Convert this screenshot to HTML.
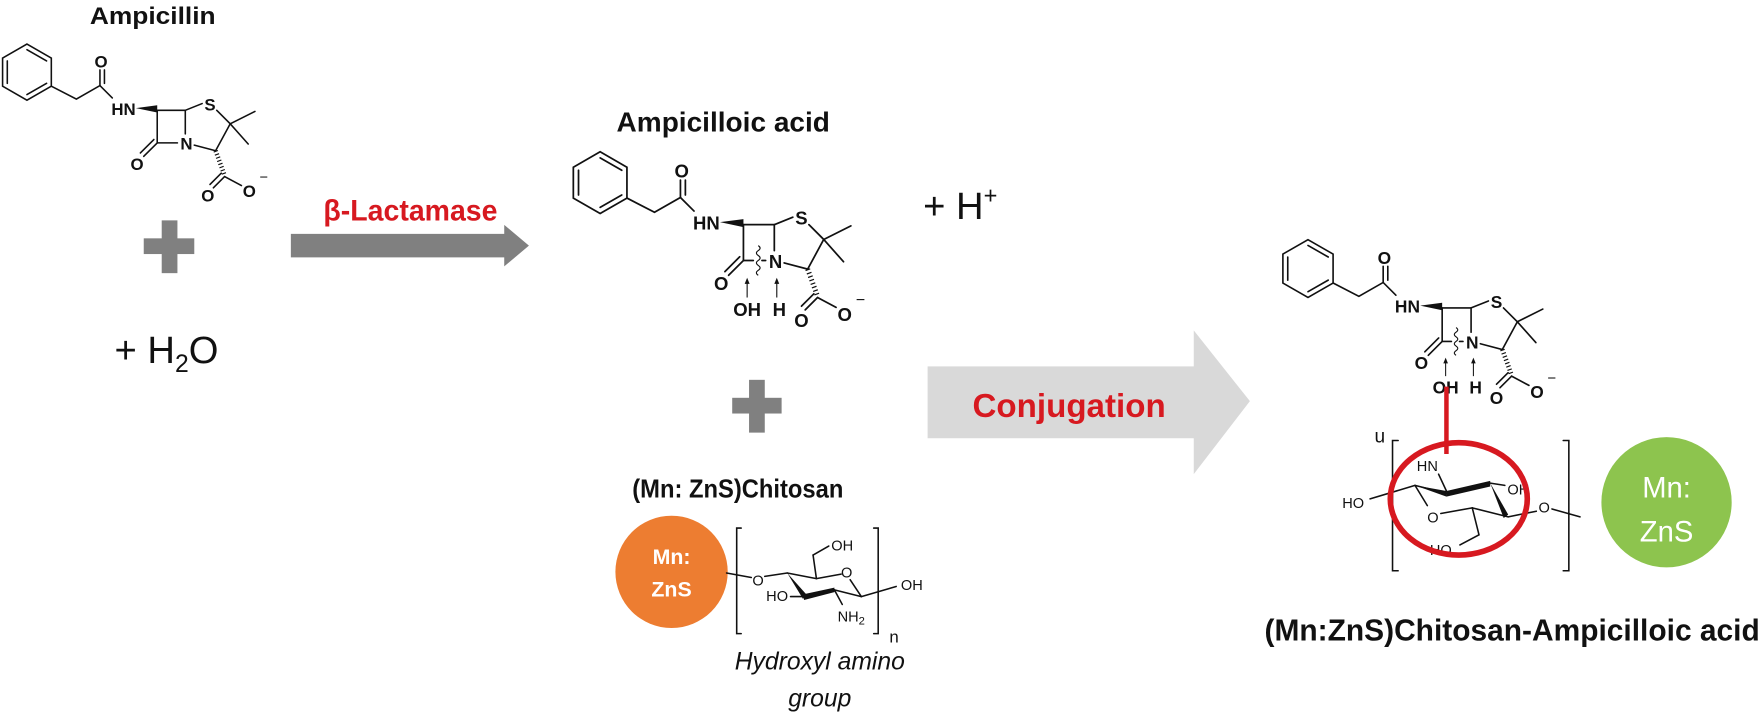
<!DOCTYPE html>
<html><head><meta charset="utf-8"><style>
html,body{margin:0;padding:0;background:#fff;}
svg{display:block;}
text{font-family:"Liberation Sans",Arial,sans-serif;}
.b{stroke:#111;stroke-width:1.4;fill:none;stroke-linecap:round;}
.lb{font-size:15px;fill:#111;text-anchor:middle;font-weight:bold;}
.sl{font-size:13px;fill:#111;text-anchor:middle;}
</style></head><body>
<svg width="1762" height="717" viewBox="0 0 1569 638" xmlns="http://www.w3.org/2000/svg">
<rect width="1569" height="638" fill="#fff"/>

<!-- ===== Ampicillin ===== -->
<text x="80" y="21" font-size="21" font-weight="bold" fill="#111" textLength="112" lengthAdjust="spacingAndGlyphs">Ampicillin</text>
<g transform="translate(0,0)">
  <polygon class="b" points="24,39 45.7,51.5 45.7,76.5 24,89 2.3,76.5 2.3,51.5"/>
  <line class="b" x1="24" y1="44" x2="41.5" y2="54"/><line class="b" x1="41.5" y1="74" x2="24" y2="84"/><line class="b" x1="6.5" y1="74" x2="6.5" y2="54"/>
  <polyline class="b" points="45.7,76.5 68,88 89,76 100,87"/>
  <line class="b" x1="89" y1="76" x2="89" y2="62"/><line class="b" x1="93" y1="74" x2="93" y2="62"/>
  <text class="lb" x="90" y="60">O</text>
  <text class="lb" x="110" y="102">HN</text>
  <polygon points="121,96 140,93.5 140,100" fill="#111"/>
  <polyline class="b" points="140,98 165,98 165,119"/>
  <polyline class="b" points="140,98 140,127 158,127"/>
  <text class="lb" x="166" y="133">N</text>
  <line class="b" x1="140" y1="127" x2="128" y2="139"/><line class="b" x1="137" y1="124" x2="125" y2="136"/>
  <text class="lb" x="122" y="151">O</text>
  <line class="b" x1="165" y1="98" x2="180" y2="92"/>
  <text class="lb" x="187" y="98">S</text>
  <polyline class="b" points="193,98 205,110 192,134 173,129"/>
  <line class="b" x1="205" y1="110" x2="227" y2="99"/><line class="b" x1="205" y1="110" x2="221" y2="128"/>
  <line x1="192" y1="134" x2="200" y2="156" stroke="#111" stroke-width="4" stroke-dasharray="1,2"/>
  <line class="b" x1="200" y1="157" x2="190" y2="167"/><line class="b" x1="197" y1="154" x2="187" y2="164"/>
  <line class="b" x1="200" y1="157" x2="215" y2="165"/>
  <text class="lb" x="185" y="179">O</text>
  <text class="lb" x="222" y="175">O</text>
  <text x="231" y="162" font-size="13" fill="#111">−</text>
</g>

<!-- plus 1 -->
<rect x="128" y="212" width="45" height="14" fill="#808080"/>
<rect x="144" y="196" width="14" height="47" fill="#808080"/>
<text x="102" y="323" font-size="34" fill="#111">+ H<tspan font-size="22" dy="8">2</tspan><tspan dy="-8">O</tspan></text>

<!-- arrow 1 -->
<text x="288" y="196" font-size="26" font-weight="bold" fill="#d71920" textLength="155" lengthAdjust="spacingAndGlyphs">β-Lactamase</text>
<polygon points="259,208 449,208 449,200 471,218.5 449,237 449,229 259,229" fill="#808080"/>

<!-- ===== Ampicilloic acid ===== -->
<text x="549" y="117" font-size="25" font-weight="bold" fill="#111" textLength="190" lengthAdjust="spacingAndGlyphs">Ampicilloic acid</text>
<g transform="translate(508,92) scale(1.1)">
  <polygon class="b" points="24,39 45.7,51.5 45.7,76.5 24,89 2.3,76.5 2.3,51.5"/>
  <line class="b" x1="24" y1="44" x2="41.5" y2="54"/><line class="b" x1="41.5" y1="74" x2="24" y2="84"/><line class="b" x1="6.5" y1="74" x2="6.5" y2="54"/>
  <polyline class="b" points="45.7,76.5 68,88 89,76 100,87"/>
  <line class="b" x1="89" y1="76" x2="89" y2="62"/><line class="b" x1="93" y1="74" x2="93" y2="62"/>
  <text class="lb" x="90" y="60">O</text>
  <text class="lb" x="110" y="102">HN</text>
  <polygon points="121,96 140,93.5 140,100" fill="#111"/>
  <polyline class="b" points="140,98 165,98 165,119"/>
  <polyline class="b" points="140,98 140,127 148,127"/>
  <line class="b" x1="155" y1="127" x2="158" y2="127"/>
  <path d="M152,115 q3,2 0,4 q-3,2 0,4 q3,2 0,4 q-3,2 0,4 q3,2 0,4 q-3,2 0,4" stroke="#111" stroke-width="0.9" fill="none"/>
  <text class="lb" x="166" y="133">N</text>
  <line class="b" x1="140" y1="127" x2="128" y2="139"/><line class="b" x1="137" y1="124" x2="125" y2="136"/>
  <text class="lb" x="122" y="151">O</text>
  <line class="b" x1="165" y1="98" x2="180" y2="92"/>
  <text class="lb" x="187" y="98">S</text>
  <polyline class="b" points="193,98 205,110 192,134 173,129"/>
  <line class="b" x1="205" y1="110" x2="227" y2="99"/><line class="b" x1="205" y1="110" x2="221" y2="128"/>
  <line x1="192" y1="134" x2="200" y2="156" stroke="#111" stroke-width="4" stroke-dasharray="1,2"/>
  <line class="b" x1="200" y1="157" x2="190" y2="167"/><line class="b" x1="197" y1="154" x2="187" y2="164"/>
  <line class="b" x1="200" y1="157" x2="215" y2="165"/>
  <text class="lb" x="187" y="181">O</text>
  <text class="lb" x="222" y="176">O</text>
  <text x="231" y="163" font-size="13" fill="#111">−</text>
  <line x1="143" y1="157" x2="143" y2="145" stroke="#111" stroke-width="0.9"/><polygon points="143,141 141,146 145,146" fill="#111"/>
  <line x1="167" y1="157" x2="167" y2="145" stroke="#111" stroke-width="0.9"/><polygon points="167,141 165,146 169,146" fill="#111"/>
  <text class="lb" x="143" y="172">OH</text>
  <text class="lb" x="169" y="172">H</text>
</g>
<text x="822" y="195" font-size="34" fill="#111">+ H<tspan font-size="21" dy="-14">+</tspan></text>

<!-- plus 2 -->
<rect x="652" y="354" width="44" height="14" fill="#808080"/>
<rect x="667" y="338" width="14" height="47" fill="#808080"/>

<!-- conjugation arrow -->
<polygon points="826,326 1063,326 1063,294 1113,357 1063,422 1063,390 826,390" fill="#d9d9d9"/>
<text x="866" y="371" font-size="30" font-weight="bold" fill="#d71920" textLength="172" lengthAdjust="spacingAndGlyphs">Conjugation</text>

<!-- ===== (Mn:ZnS)Chitosan ===== -->
<text x="563" y="443" font-size="23" font-weight="bold" fill="#111" textLength="188" lengthAdjust="spacingAndGlyphs">(Mn: ZnS)Chitosan</text>
<circle cx="598" cy="509" r="50" fill="#ed7d31"/>
<text x="598" y="502" font-size="19" font-weight="bold" fill="#fff" text-anchor="middle">Mn:</text>
<text x="598" y="531" font-size="19" font-weight="bold" fill="#fff" text-anchor="middle">ZnS</text>
<g>
  <polyline class="b" points="660,470 656,470 656,564 660,564"/>
  <polyline class="b" points="778,470 782,470 782,564 778,564"/>
  <text x="792" y="572" font-size="15" fill="#111">n</text>
  <line class="b" x1="647" y1="510" x2="669" y2="514"/>
  <text class="sl" x="675" y="521">O</text>
  <line class="b" x1="681" y1="513" x2="701" y2="510"/>
  <line class="b" x1="701" y1="510" x2="727" y2="515"/>
  <line class="b" x1="727" y1="515" x2="749" y2="511"/>
  <text class="sl" x="754" y="514">O</text>
  <line class="b" x1="757" y1="516" x2="767" y2="531"/>
  <line class="b" x1="727" y1="515" x2="724" y2="494"/>
  <line class="b" x1="724" y1="494" x2="738" y2="486"/>
  <text class="sl" x="750" y="490">OH</text>
  <polygon points="701,510 715,533 718,529" fill="#111"/>
  <polygon points="715,529 743,523 743,527 716,534" fill="#111"/>
  <line class="b" x1="743" y1="525" x2="767" y2="531"/>
  <line class="b" x1="767" y1="531" x2="798" y2="522"/>
  <text class="sl" x="812" y="525">OH</text>
  <line class="b" x1="715" y1="531" x2="704" y2="531"/>
  <text class="sl" x="692" y="535">HO</text>
  <line class="b" x1="743" y1="525" x2="750" y2="538"/>
  <text class="sl" x="758" y="553">NH<tspan font-size="10" dy="3">2</tspan></text>
</g>
<text x="730" y="596" font-size="22" font-style="italic" fill="#111" text-anchor="middle">Hydroxyl amino</text>
<text x="730" y="629" font-size="22" font-style="italic" fill="#111" text-anchor="middle">group</text>

<!-- ===== Conjugate ===== -->
<g transform="translate(1140,173) scale(1.03)">
  <polygon class="b" points="24,39 45.7,51.5 45.7,76.5 24,89 2.3,76.5 2.3,51.5"/>
  <line class="b" x1="24" y1="44" x2="41.5" y2="54"/><line class="b" x1="41.5" y1="74" x2="24" y2="84"/><line class="b" x1="6.5" y1="74" x2="6.5" y2="54"/>
  <polyline class="b" points="45.7,76.5 68,88 89,76 100,87"/>
  <line class="b" x1="89" y1="76" x2="89" y2="62"/><line class="b" x1="93" y1="74" x2="93" y2="62"/>
  <text class="lb" x="90" y="60">O</text>
  <text class="lb" x="110" y="102">HN</text>
  <polygon points="121,96 140,93.5 140,100" fill="#111"/>
  <polyline class="b" points="140,98 165,98 165,119"/>
  <polyline class="b" points="140,98 140,127 148,127"/>
  <line class="b" x1="155" y1="127" x2="158" y2="127"/>
  <path d="M152,115 q3,2 0,4 q-3,2 0,4 q3,2 0,4 q-3,2 0,4 q3,2 0,4 q-3,2 0,4" stroke="#111" stroke-width="0.9" fill="none"/>
  <text class="lb" x="166" y="133">N</text>
  <line class="b" x1="140" y1="127" x2="128" y2="139"/><line class="b" x1="137" y1="124" x2="125" y2="136"/>
  <text class="lb" x="122" y="151">O</text>
  <line class="b" x1="165" y1="98" x2="180" y2="92"/>
  <text class="lb" x="187" y="98">S</text>
  <polyline class="b" points="193,98 205,110 192,134 173,129"/>
  <line class="b" x1="205" y1="110" x2="227" y2="99"/><line class="b" x1="205" y1="110" x2="221" y2="128"/>
  <line x1="192" y1="134" x2="200" y2="156" stroke="#111" stroke-width="4" stroke-dasharray="1,2"/>
  <line class="b" x1="200" y1="157" x2="190" y2="167"/><line class="b" x1="197" y1="154" x2="187" y2="164"/>
  <line class="b" x1="200" y1="157" x2="215" y2="165"/>
  <text class="lb" x="187" y="181">O</text>
  <text class="lb" x="222" y="176">O</text>
  <text x="231" y="163" font-size="13" fill="#111">−</text>
  <line x1="143" y1="157" x2="143" y2="145" stroke="#111" stroke-width="0.9"/><polygon points="143,141 141,146 145,146" fill="#111"/>
  <line x1="167" y1="157" x2="167" y2="145" stroke="#111" stroke-width="0.9"/><polygon points="167,141 165,146 169,146" fill="#111"/>
  <text class="lb" x="143" y="172">OH</text>
  <text class="lb" x="169" y="172">H</text>
</g>

<!-- right chitosan -->
<g>
  <text x="1224" y="394" font-size="17" fill="#111">u</text>
  <polyline class="b" points="1245,392 1240,392 1240,508 1245,508"/>
  <polyline class="b" points="1392,392 1397,392 1397,508 1392,508"/>
  <text class="sl" x="1271" y="419">HN</text>
  <line class="b" x1="1281" y1="422" x2="1288" y2="437"/>
  <line class="b" x1="1220" y1="444" x2="1260" y2="432"/>
  <text class="sl" x="1205" y="452">HO</text>
  <line class="b" x1="1260" y1="432" x2="1288" y2="439"/>
  <polygon points="1260,432 1288,437 1288,442" fill="#111"/>
  <polygon points="1288,437 1327,428 1327,433 1288,442" fill="#111"/>
  <polygon points="1327,430 1343,458 1339,461" fill="#111"/>
  <line class="b" x1="1327" y1="430" x2="1340" y2="432"/>
  <text class="sl" x="1352" y="440">OH</text>
  <line class="b" x1="1260" y1="432" x2="1271" y2="450"/>
  <text class="sl" x="1276" y="465">O</text>
  <line class="b" x1="1283" y1="457" x2="1311" y2="452"/>
  <line class="b" x1="1311" y1="452" x2="1343" y2="460"/>
  <line class="b" x1="1343" y1="460" x2="1368" y2="455"/>
  <text class="sl" x="1375" y="456">O</text>
  <line class="b" x1="1382" y1="453" x2="1407" y2="460"/>
  <polyline class="b" points="1311,452 1317,476 1300,485"/>
  <text class="sl" x="1283" y="494">HO</text>
</g>
<line x1="1288" y1="344" x2="1288" y2="404" stroke="#d71920" stroke-width="4"/>
<ellipse cx="1299" cy="444" rx="61" ry="50" fill="none" stroke="#d71920" stroke-width="5"/>

<circle cx="1484" cy="447" r="58" fill="#8dc44e"/>
<text x="1484" y="443" font-size="26" fill="#fff" text-anchor="middle">Mn:</text>
<text x="1484" y="482" font-size="26" fill="#fff" text-anchor="middle">ZnS</text>

<text x="1126" y="570" font-size="27" font-weight="bold" fill="#111" textLength="441" lengthAdjust="spacingAndGlyphs">(Mn:ZnS)Chitosan-Ampicilloic acid</text>
</svg>
</body></html>
